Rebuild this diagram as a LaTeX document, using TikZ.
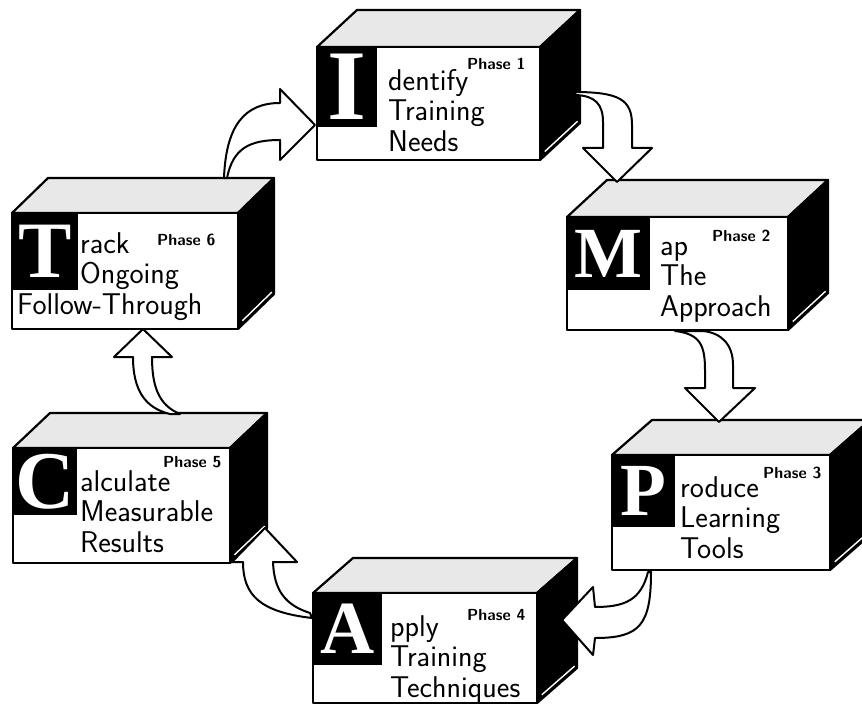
\documentclass[tikz,border=0pt]{standalone}
\usepackage{fontspec}
\newfontfamily\capfont{Liberation Serif}
\usepackage{tikz}
\usetikzlibrary{calc, positioning}

\tikzset{
  cubeline/.style={line width=2.2pt, line join=round},
  topface/.style={cubeline, fill=black!9},
  sideface/.style={cubeline, fill=black},
  frontface/.style={cubeline, fill=white},
  glint/.style={white, line width=1.4pt},
  initial/.style={fill=black, text=white, inner sep=0pt, anchor=north west},
  phaselabel/.style={font=\sffamily\bfseries\fontsize{16}{16}\selectfont, anchor=base west, inner sep=0pt},
  steptext/.style={font=\sffamily\fontsize{30}{30.5}\selectfont, align=left, anchor=base west, inner sep=0pt},
  flowarrow/.style={line width=2pt, fill=white, line join=round},
}

% block: name, left, top, right, bottom, depth x, depth y
\newcommand{\phaseblock}[7]{%
  \draw[topface] (#2,#3) -- ++(#6,#7) -- ({#4+#6},{#3+#7}) -- (#4,#3) -- cycle;
  \draw[sideface] (#4,#3) -- ({#4+#6},{#3+#7}) -- ({#4+#6},{#5+#7}) -- (#4,#5) -- cycle;
  \draw[glint] ($(#4,#5)!0.12!({#4+#6},{#5+#7})+(0,-4)$) -- ($(#4,#5)!0.94!({#4+#6},{#5+#7})+(0,-4)$);
  \draw[frontface] (#2,#3) rectangle (#4,#5);
  \coordinate (#1) at (#2,#3);
}

\begin{document}
\begin{tikzpicture}[x=1pt, y=-1pt]
\useasboundingbox (0,0) rectangle (862,706);

% Phase 1
\phaseblock{identify}{317}{47}{540}{160}{40}{-37}
\node[initial, minimum width=60pt, minimum height=80pt] (I) at (identify) {\capfont\bfseries\fontsize{100}{100}\selectfont I};
\node[steptext] (I-text) at (388,151) {dentify\\Training\\Needs};
\node[phaselabel] (I-phase) at (467,70) {Phase 1};

% Phase 2
\phaseblock{map}{567}{217}{788}{330}{40}{-37}
\node[initial, minimum width=83pt, minimum height=73pt] (M) at (map) {\capfont\bfseries\fontsize{72}{72}\selectfont M};
\node[steptext] (M-text) at (660,316) {ap\\The\\Approach};
\node[phaselabel] (M-phase) at (712,241) {Phase 2};

% Phase 3
\phaseblock{produce}{612}{455}{830}{570}{40}{-35}
\node[initial, minimum width=63pt, minimum height=72pt] (P) at (produce) {\capfont\bfseries\fontsize{75}{75}\selectfont P};
\node[steptext] (P-text) at (680,558) {roduce\\Learning\\Tools};
\node[phaselabel] (P-phase) at (763,478) {Phase 3};

% Phase 4
\phaseblock{apply}{313}{593}{537}{703}{40}{-35}
\node[initial, minimum width=69pt, minimum height=72pt] (A) at (apply) {\capfont\bfseries\fontsize{75}{75}\selectfont A};
\node[steptext] (A-text) at (390,697) {pply\\Training\\Techniques};
\node[phaselabel] (A-phase) at (467,620) {Phase 4};

% Phase 5
\phaseblock{calculate}{13}{448}{230}{563}{37}{-35}
\node[initial, minimum width=64pt, minimum height=67pt] (C) at (calculate) {\capfont\bfseries\fontsize{82}{82}\selectfont C};
\node[steptext] (C-text) at (80,552) {alculate\\Measurable\\Results};
\node[phaselabel] (C-phase) at (163,467) {Phase 5};

% Phase 6
\phaseblock{track}{12}{213}{238}{329}{36}{-35}
\node[initial, minimum width=66pt, minimum height=77pt] (T) at (track) {\capfont\bfseries\fontsize{80}{80}\selectfont T};
\node[steptext] (T-text) at (80,314) {rack\\Ongoing\\\hspace*{-63pt}Follow-Through};
\node[phaselabel] (T-phase) at (157,245) {Phase 6};

% arrows between phases
\draw[flowarrow] (224,178) .. controls (226,125) and (245,103) .. (280,103) -- (280,89) -- (315,125)
  -- (280,160) -- (280,140) .. controls (250,140) and (233,148) .. (227,178) -- cycle;
\draw[flowarrow] (574,92) .. controls (620,92) and (632,100) .. (632,125) -- (632,148) -- (652,148)
  -- (617,182) -- (583,148) -- (603,148) -- (603,122) .. controls (603,104) and (595,96) .. (576,95) -- cycle;
\draw[flowarrow] (675,331) .. controls (700,334) and (705,345) .. (705,370) -- (705,388) -- (685,388)
  -- (719,422) -- (755,388) -- (733,388) -- (733,365) .. controls (733,345) and (722,333) .. (703,331) -- cycle;
\draw[flowarrow] (651,572) .. controls (651,625) and (640,638) .. (595,638) -- (593,655) -- (562,620)
  -- (593,587) -- (595,607) .. controls (625,607) and (641,600) .. (648,572) -- cycle;
\draw[flowarrow] (312,618) .. controls (260,612) and (243,595) .. (243,562) -- (232,562) -- (265,528)
  -- (297,562) -- (273,562) .. controls (274,590) and (285,605) .. (310,613) -- cycle;
\draw[flowarrow] (180,414) .. controls (158,405) and (152,385) .. (152,357) -- (172,357) -- (143,329)
  -- (114,357) -- (133,357) .. controls (133,390) and (145,408) .. (170,414) -- cycle;
\end{tikzpicture}
\end{document}
